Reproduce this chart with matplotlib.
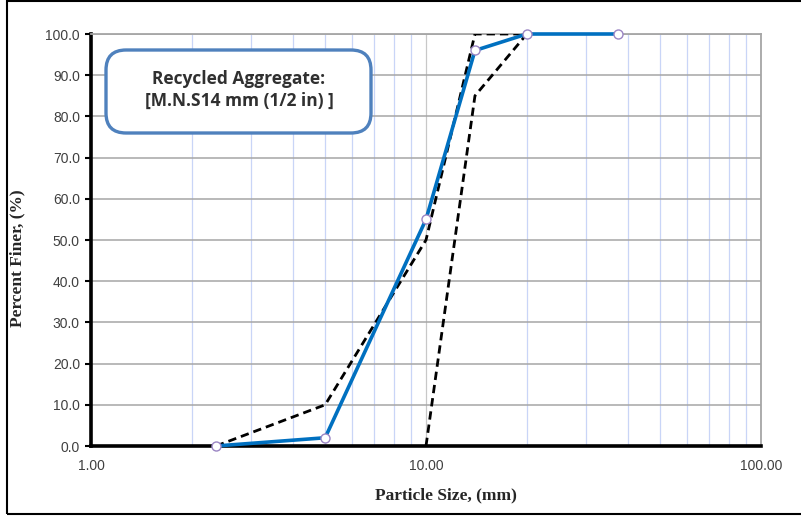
import numpy as np
import matplotlib
matplotlib.use('Agg')
import matplotlib.pyplot as plt
from matplotlib.patches import FancyBboxPatch, Rectangle
from matplotlib.ticker import FixedLocator, FixedFormatter, NullFormatter

# ── Data ─────────────────────────────────────────────────────
sample_size   = [2.36, 5.0, 10.0, 14.0, 20.0, 37.5]
sample_finer  = [0.0, 2.0, 55.0, 96.0, 100.0, 100.0]

upper_size    = [2.36, 5.0, 10.0, 14.0, 20.0]
upper_finer   = [0.0, 10.0, 50.0, 100.0, 100.0]

lower_size    = [10.0, 14.0, 20.0]
lower_finer   = [0.0, 85.0, 100.0]

y_ticks       = [0, 10, 20, 30, 40, 50, 60, 70, 80, 90, 100]
x_ticks       = [1, 10, 100]
x_tick_labels = ['1.00', '10.00', '100.00']

BLUE  = '#0070c0'
GRID  = '#a6a6a6'
MINOR = '#c9d5f7'

fig = plt.figure(figsize=(8.01, 5.16), dpi=100)
ax = fig.add_axes([91/801, 1 - 446/516, (761 - 91)/801, (446 - 34)/516])

ax.set_xscale('log')
ax.set_xlim(1, 100)
ax.set_ylim(0, 100)

# grid
ax.xaxis.set_minor_locator(FixedLocator([m * d for d in (1, 10) for m in range(2, 10)]))
ax.xaxis.set_minor_formatter(NullFormatter())
ax.grid(True, which='minor', axis='x', color=MINOR, lw=0.9)
ax.grid(True, which='major', axis='x', color='#c8c8c8', lw=0.9)
ax.grid(True, which='major', axis='y', color=GRID, lw=1.1)
ax.set_axisbelow(True)

# curves
ax.plot(upper_size, upper_finer, color='black', lw=2.0, ls=(0, (3.0, 1.8)), zorder=3)
ax.plot(lower_size, lower_finer, color='black', lw=2.0, ls=(0, (3.0, 1.8)), zorder=3)
ax.plot(sample_size, sample_finer, color=BLUE, lw=2.6, zorder=4, clip_on=False,
        marker='o', markersize=6.5, markerfacecolor='white',
        markeredgecolor='#9b85c4', markeredgewidth=1.0)

# ticks
ax.set_yticks(y_ticks)
ax.set_yticklabels([f'{v:.1f}' for v in y_ticks], fontsize=10, color='#404040',
                   family='Liberation Sans')
ax.xaxis.set_major_locator(FixedLocator(x_ticks))
ax.xaxis.set_major_formatter(FixedFormatter(x_tick_labels))
for lab in ax.get_xticklabels():
    lab.set_fontsize(10)
    lab.set_color('#404040')
    lab.set_family('Liberation Sans')
ax.tick_params(axis='y', length=4, width=1.5, color='black', pad=4)
ax.tick_params(axis='x', which='both', length=0, pad=9)

# spines
for s in ('left', 'bottom'):
    ax.spines[s].set_color('black')
    ax.spines[s].set_linewidth(2.6)
for s in ('top', 'right'):
    ax.spines[s].set_color(GRID)
    ax.spines[s].set_linewidth(1.3)

# axis labels
fig.text(17/801, 1 - 258/516, 'Percent Finer, (%)', rotation=90, ha='center', va='center',
         fontsize=12.5, fontweight='bold', family='Liberation Serif', color='#262626')
fig.text(446/801, 1 - 495/516, 'Particle Size, (mm)', ha='center', va='center',
         fontsize=12.5, fontweight='bold', family='Liberation Serif', color='#262626')

# annotation box
box = FancyBboxPatch((106/801, 1 - 133/516), (371 - 106)/801, (133 - 50)/516,
                     boxstyle='round,pad=0,rounding_size=0.025',
                     transform=fig.transFigure, facecolor='white',
                     edgecolor='#4f81bd', lw=2.4, mutation_aspect=801/516, zorder=5)
fig.patches.append(box)
fig.text(239/801, 1 - 79/516, 'Recycled Aggregate:', ha='center', va='center',
         fontsize=12.5, fontweight='bold', family='Open Sans', color='#303030', zorder=6)
fig.text(239/801, 1 - 101/516, '[M.N.S14 mm (1/2 in) ]', ha='center', va='center',
         fontsize=12.5, fontweight='bold', family='Open Sans', color='#303030', zorder=6)

# outer frame
fig.patches.append(Rectangle((7/801, 1 - 514/516), 800/801, 513/516, transform=fig.transFigure,
                             fill=False, edgecolor='black', lw=1.5))

plt.savefig('out.png', dpi=100)
plt.close()
